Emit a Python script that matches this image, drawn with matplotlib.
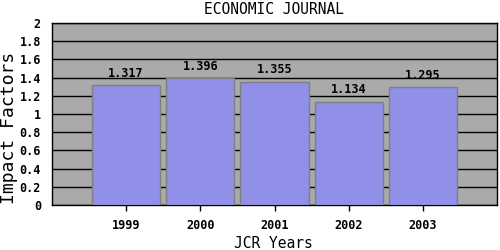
import matplotlib
matplotlib.use("Agg")
import matplotlib.pyplot as plt

years = ["1999", "2000", "2001", "2002", "2003"]
impact = [1.317, 1.396, 1.355, 1.134, 1.295]
yticks = [0, 0.2, 0.4, 0.6, 0.8, 1, 1.2, 1.4, 1.6, 1.8, 2]
ytick_labels = ["0", "0.2", "0.4", "0.6", "0.8", "1", "1.2", "1.4", "1.6", "1.8", "2"]

mono = "DejaVu Sans Mono"
fig = plt.figure(figsize=(5, 2.5), dpi=100)
ax = fig.add_axes([0.104, 0.18, 0.89, 0.728])
ax.set_facecolor("#aaaaaa")

pos = list(range(1, len(years) + 1))
ax.bar(pos, impact, width=0.92, color="#9090e8", edgecolor="#808080", linewidth=1, zorder=3)
for x, v in zip(pos, impact):
    ax.text(x, v + 0.06, f"{v:.3f}", ha="center", va="bottom", fontsize=8.5,
            family=mono, fontweight="bold", zorder=4)

ax.set_xlim(0, 6)
ax.set_ylim(0, 2)
ax.set_yticks(yticks)
ax.set_yticklabels(ytick_labels, family=mono, fontweight="bold", fontsize=8.5)
ax.set_xticks(pos)
ax.set_xticklabels(years, family=mono, fontweight="bold", fontsize=8.5)
ax.tick_params(axis="y", length=0, pad=8)
ax.tick_params(axis="x", length=4, width=1, pad=6)
ax.yaxis.grid(True, color="black", linewidth=1, zorder=1)
ax.set_axisbelow(True)
for s in ax.spines.values():
    s.set_color("black")
    s.set_linewidth(1)

fig.text(0.549, 1 - 9 / 250, "ECONOMIC JOURNAL", ha="center", va="center", family=mono, fontsize=10.5)
fig.text(0.546, 1 - 243 / 250, "JCR Years", ha="center", va="center", family=mono, fontsize=10.5)
fig.text(9 / 500, 1 - 128 / 250, "Impact Factors", ha="center", va="center", rotation=90, family=mono, fontsize=13)

fig.savefig("out.png", dpi=100)
